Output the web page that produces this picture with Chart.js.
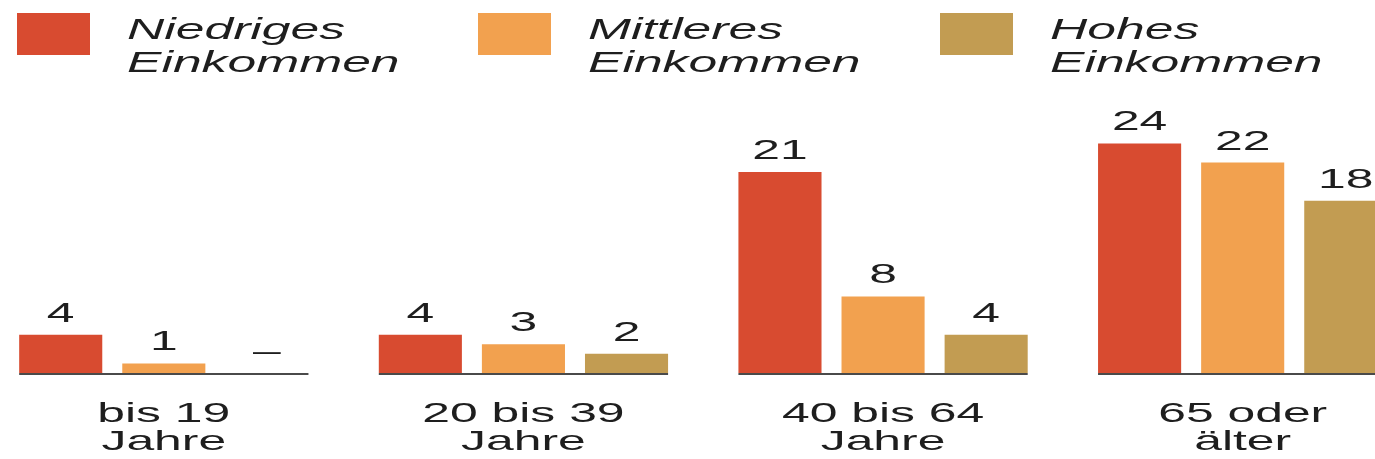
<!DOCTYPE html>
<html>
<head>
<meta charset="utf-8">
<script src="https://cdn.jsdelivr.net/npm/chart.js@4"></script>
<style>
  html, body { margin: 0; padding: 0; background: #fff; overflow: hidden; }
  #wrap { position: absolute; left: -16px; top: 0; width: 1440px; height: 459px; }
</style>
</head>
<body>
<div id="wrap"><canvas id="chart" width="1440" height="459"></canvas></div>
<script>
// data
const categories = [['bis 19', 'Jahre'], ['20 bis 39', 'Jahre'], ['40 bis 64', 'Jahre'], ['65 oder', 'älter']];
const seriesNames = ['Niedriges Einkommen', 'Mittleres Einkommen', 'Hohes Einkommen'];
const niedrig = [4, 4, 21, 24];
const mittel = [1, 3, 8, 22];
const hoch = [0, 2, 4, 18];
const colors = ['#d84b30', '#f2a14f', '#c29c52'];

const SX = 1.78; // the original text is drawn horizontally stretched
const shift = 16; // canvas starts 16px left of the page

function stretchText(ctx, text, x, y, align) {
  ctx.save();
  ctx.translate(x, y);
  ctx.scale(SX, 1);
  ctx.textAlign = align;
  ctx.fillText(text, 0, 0);
  ctx.restore();
}

const extras = {
  id: 'extras',
  afterDatasetsDraw(chart) {
    const ctx = chart.ctx;
    const y0 = chart.scales.y.getPixelForValue(0);
    const metas = chart.data.datasets.map((d, i) => chart.getDatasetMeta(i));

    // baseline under each group
    ctx.save();
    ctx.strokeStyle = '#4a4a4a';
    ctx.lineWidth = 2;
    categories.forEach((c, i) => {
      const first = metas[0].data[i], last = metas[metas.length - 1].data[i];
      ctx.beginPath();
      ctx.moveTo(first.x - first.width / 2, y0 + 1);
      ctx.lineTo(last.x + last.width / 2, y0 + 1);
      ctx.stroke();
    });

    // value labels
    ctx.fillStyle = '#1e1e1e';
    ctx.font = '28px "Liberation Sans", Arial, sans-serif';
    ctx.textBaseline = 'alphabetic';
    chart.data.datasets.forEach((ds, di) => {
      metas[di].data.forEach((bar, i) => {
        const v = ds.data[i];
        stretchText(ctx, v === 0 ? '–' : String(v), bar.x, bar.y - 13, 'center');
      });
    });

    // category labels
    categories.forEach((lines, i) => {
      const cx = chart.scales.x.getPixelForValue(i);
      lines.forEach((t, li) => stretchText(ctx, t, cx, 422 + li * 28, 'center'));
    });

    // legend
    ctx.font = 'italic 29px "Liberation Sans", Arial, sans-serif';
    const legendX = [17, 478, 940];
    chart.data.datasets.forEach((ds, di) => {
      const x = legendX[di] + shift;
      ctx.fillStyle = ds.backgroundColor;
      ctx.fillRect(x, 13, 73, 42);
      ctx.fillStyle = '#1e1e1e';
      const words = ds.label.split(' ');
      stretchText(ctx, words[0], x + 110, 39, 'left');
      stretchText(ctx, words[1], x + 110, 72, 'left');
    });
    ctx.restore();
  }
};

new Chart(document.getElementById('chart'), {
  type: 'bar',
  data: {
    labels: categories,
    datasets: [
      { label: seriesNames[0], data: niedrig, backgroundColor: colors[0] },
      { label: seriesNames[1], data: mittel, backgroundColor: colors[1] },
      { label: seriesNames[2], data: hoch, backgroundColor: colors[2] }
    ]
  },
  options: {
    responsive: false,
    animation: false,
    categoryPercentage: 0.86,
    barPercentage: 0.806,
    layout: { padding: { top: 86, bottom: 86, left: 0, right: 1.5 } },
    plugins: { legend: { display: false }, tooltip: { enabled: false } },
    scales: {
      x: { display: false },
      y: { display: false, min: 0, max: 30 }
    }
  },
  plugins: [extras]
});
</script>
</body>
</html>
